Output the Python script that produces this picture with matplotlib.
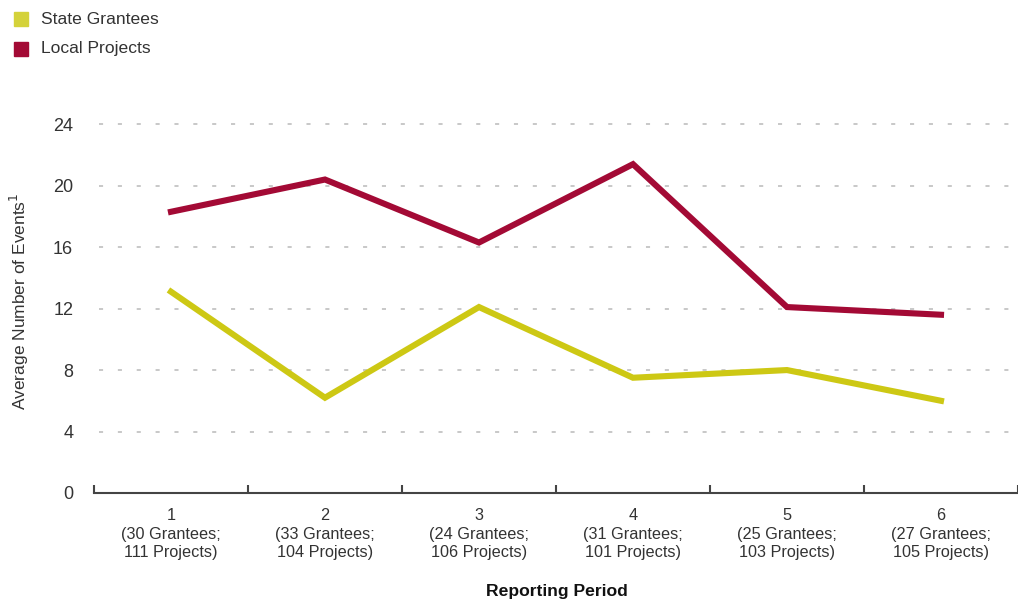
import matplotlib.pyplot as plt
import numpy as np

plt.rcParams['font.family'] = ['Liberation Sans', 'DejaVu Sans']

periods = ["1", "2", "3", "4", "5", "6"]
grantees = [30, 33, 24, 31, 25, 27]
projects = [111, 104, 106, 101, 103, 105]
state_grantees = [13.1, 6.2, 12.1, 7.5, 8.0, 6.0]
local_projects = [18.3, 20.4, 16.3, 21.4, 12.1, 11.6]
y_ticks = [0, 4, 8, 12, 16, 20, 24]

yellow = "#cdc814"
red = "#a30a35"

fig = plt.figure(figsize=(10.18, 6.04), dpi=100, facecolor="w")
ax = fig.add_axes([0.0923, 0.1838, 0.9077, 0.636])

x = np.arange(len(periods))
ax.plot(x, state_grantees, color=yellow, lw=4.4, solid_joinstyle="miter", zorder=3)
ax.plot(x, local_projects, color=red, lw=4.4, solid_joinstyle="miter", zorder=3)

ax.set_xlim(-0.5, len(periods) - 0.5)
ax.set_ylim(0, 25)

# gridlines, dashed
for v in y_ticks[1:]:
    ax.plot([-0.47, len(periods) - 0.56], [v, v], color="#c8c8c8", lw=1.4,
            dashes=(2.1, 7.6), zorder=1)

ax.set_yticks(y_ticks)
ax.set_yticklabels([str(v) for v in y_ticks], fontsize=13, color="#333333")
ax.tick_params(axis="y", length=0, pad=15)

ax.set_xticks(np.arange(-0.5, len(periods), 1.0))
ax.set_xticklabels([])
ax.tick_params(axis="x", which="major", direction="in", length=5.5, width=1.5,
               color="#444444")
ax.set_xticks(x, minor=True)
ax.set_xticklabels(["%s\n(%d Grantees;\n%d Projects)" % (p, g, pr)
                    for p, g, pr in zip(periods, grantees, projects)],
                   minor=True, fontsize=11.7, color="#333333", linespacing=1.3)
ax.tick_params(axis="x", which="minor", length=0, pad=11)

for s in ["top", "right", "left"]:
    ax.spines[s].set_visible(False)
ax.spines["bottom"].set_color("#444444")
ax.spines["bottom"].set_linewidth(1.5)

ax.set_ylabel("Average Number of Events$^1$", fontsize=12.5, color="#333333",
              labelpad=16)
fig.text(0.547, 0.008, "Reporting Period", ha="center", va="bottom",
         fontsize=12.6, fontweight="bold", color="#111111")

# legend
fig.patches.append(plt.Rectangle((14 / 1018, 1 - 26 / 604), 14 / 1018, 14 / 604,
                                 transform=fig.transFigure, color="#d4d23a"))
fig.patches.append(plt.Rectangle((14 / 1018, 1 - 56 / 604), 14 / 1018, 14 / 604,
                                 transform=fig.transFigure, color=red))
fig.text(41 / 1018, 1 - 19 / 604, "State Grantees", va="center", fontsize=12.6,
         color="#333333")
fig.text(41 / 1018, 1 - 49 / 604, "Local Projects", va="center", fontsize=12.6,
         color="#333333")

fig.savefig("out.png", dpi=100, facecolor="w")
